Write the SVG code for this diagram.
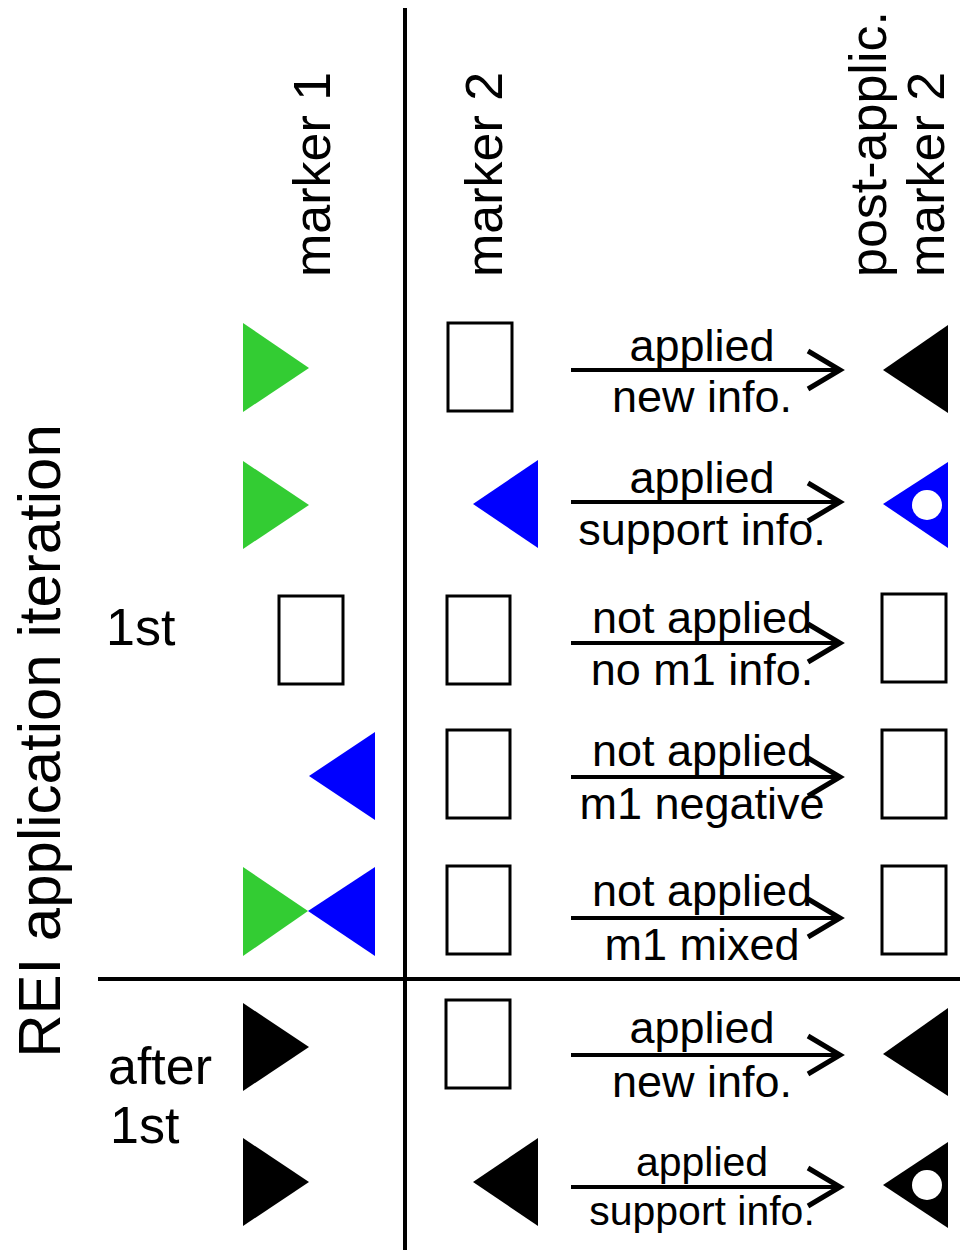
<svg xmlns="http://www.w3.org/2000/svg" width="960" height="1250" viewBox="0 0 960 1250">
<defs>
<style>
text{font-family:"Liberation Sans",Arial,sans-serif;fill:#000}
.hd{font-size:52px}
.lb{font-size:45px;text-anchor:middle}
.lb2{font-size:41px;text-anchor:middle}
.box{fill:#fff;stroke:#000;stroke-width:3}
.g{fill:#33cc33}
.b{fill:#0000ff}
.k{fill:#000}
.hole{fill:#fff}
.ax{stroke:#000;stroke-width:4;fill:none}
.arr{stroke:#000;stroke-width:4;fill:none}
.head{stroke:#000;stroke-width:5;fill:none;stroke-linejoin:miter}
</style>
</defs>
<rect width="960" height="1250" fill="#fff"/>
<g id="axes">
<line class="ax" x1="405" y1="8" x2="405" y2="1250"/>
<line class="ax" x1="98" y1="979" x2="960" y2="979"/>
</g>
<g id="headers">
<text class="hd" transform="translate(330,277) rotate(-90)">marker 1</text>
<text class="hd" transform="translate(502,277) rotate(-90)">marker 2</text>
<text class="hd" transform="translate(886,277) rotate(-90)">post-applic.</text>
<text class="hd" transform="translate(944,277) rotate(-90)">marker 2</text>
<text style="font-size:60px;text-anchor:middle" transform="translate(60,741) rotate(-90)">REI application iteration</text>
<text class="hd" x="106" y="645">1st</text>
<text class="hd" x="108" y="1084">after</text>
<text class="hd" x="110" y="1143">1st</text>
</g>
<g id="row1">
<polygon class="g" points="243,323 309,368 243,412"/>
<rect class="box" x="448" y="323" width="64" height="88"/>
<polygon class="k" points="948,325 883,370 948,413"/>
</g>
<g id="row2">
<polygon class="g" points="243,461 309,505 243,549"/>
<polygon class="b" points="538,460 473,504 538,548"/>
<polygon class="b" points="948,462 883,504 948,548"/>
<circle class="hole" cx="927" cy="505" r="15"/>
</g>
<g id="row3">
<rect class="box" x="279" y="596" width="64" height="88"/>
<rect class="box" x="447" y="596" width="63" height="88"/>
<rect class="box" x="882" y="594" width="64" height="88"/>
</g>
<g id="row4">
<polygon class="b" points="375,732 309,776 375,820"/>
<rect class="box" x="447" y="730" width="63" height="88"/>
<rect class="box" x="882" y="730" width="64" height="88"/>
</g>
<g id="row5">
<polygon class="g" points="243,867 308,911 243,956"/>
<polygon class="b" points="375,867 308,911 375,956"/>
<rect class="box" x="447" y="866" width="63" height="88"/>
<rect class="box" x="882" y="866" width="64" height="88"/>
</g>
<g id="row6">
<polygon class="k" points="243,1003 309,1047 243,1091"/>
<rect class="box" x="446" y="1000" width="64" height="88"/>
<polygon class="k" points="948,1008 883,1054 948,1096"/>
</g>
<g id="row7">
<polygon class="k" points="243,1138 309,1182 243,1226"/>
<polygon class="k" points="538,1138 473,1182 538,1226"/>
<polygon class="k" points="948,1142 883,1185 948,1228"/>
<circle class="hole" cx="927" cy="1185" r="15"/>
</g>
<g id="connectors">
<line class="arr" x1="571" y1="370" x2="840" y2="370"/><polyline class="head" points="808,351 840,370 808,389"/>
<line class="arr" x1="571" y1="502" x2="840" y2="502"/><polyline class="head" points="808,483 840,502 808,521"/>
<line class="arr" x1="571" y1="643" x2="840" y2="643"/><polyline class="head" points="808,624 840,643 808,662"/>
<line class="arr" x1="571" y1="777" x2="840" y2="777"/><polyline class="head" points="808,758 840,777 808,796"/>
<line class="arr" x1="571" y1="918" x2="840" y2="918"/><polyline class="head" points="808,899 840,918 808,937"/>
<line class="arr" x1="571" y1="1055" x2="840" y2="1055"/><polyline class="head" points="808,1036 840,1055 808,1074"/>
<line class="arr" x1="571" y1="1187" x2="840" y2="1187"/><polyline class="head" points="808,1168 840,1187 808,1206"/>
</g>
<g id="labels">
<text class="lb" x="702" y="361">applied</text>
<text class="lb" x="702" y="412">new info.</text>
<text class="lb" x="702" y="493">applied</text>
<text class="lb" x="702" y="545">support info.</text>
<text class="lb" x="702" y="633">not applied</text>
<text class="lb" x="702" y="685">no m1 info.</text>
<text class="lb" x="702" y="766">not applied</text>
<text class="lb" x="702" y="819">m1 negative</text>
<text class="lb" x="702" y="906">not applied</text>
<text class="lb" x="702" y="960">m1 mixed</text>
<text class="lb" x="702" y="1043">applied</text>
<text class="lb" x="702" y="1097">new info.</text>
<text class="lb2" x="702" y="1176">applied</text>
<text class="lb2" x="702" y="1225">support info.</text>
</g>
</svg>
